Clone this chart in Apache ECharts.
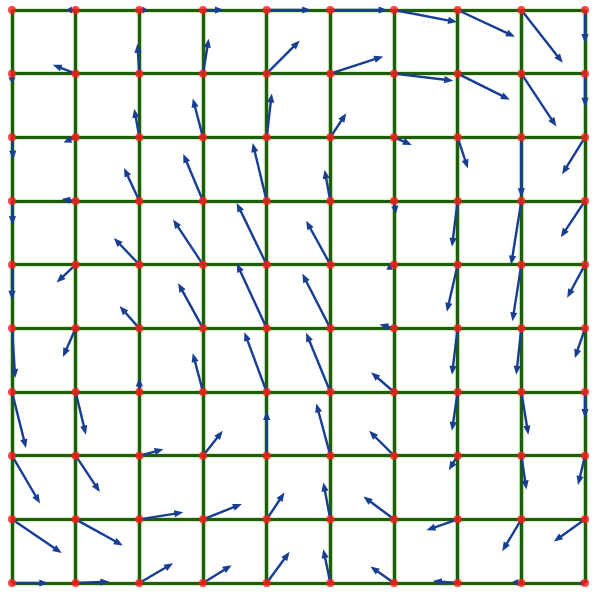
<!DOCTYPE html>
<html>
<head>
<meta charset="utf-8">
<script src="https://cdn.jsdelivr.net/npm/echarts@6/dist/echarts.min.js"></script>
<style>html,body{margin:0;padding:0;background:#fff;}#chart{width:600px;height:598px;}</style>
</head>
<body>
<div id="chart"></div>
<script>
// Grid positions (columns and rows, row 0 at the top)
const columns = [0, 1, 2, 3, 4, 5, 6, 7, 8, 9];
const rows = [0, 1, 2, 3, 4, 5, 6, 7, 8, 9];

// Horizontal vector components (grid units, positive to the right), one row per list
const U = [
  [0.00, -0.15, 0.13, 0.33, 0.70, 0.90, 0.99, 0.90, 0.65, 0.00],
  [0.00, -0.36, -0.03, 0.09, 0.52, 0.83, 0.93, 0.82, 0.55, 0.00],
  [0.02, -0.19, -0.08, -0.16, 0.08, 0.25, 0.28, 0.16, 0.00, -0.36],
  [0.01, -0.22, -0.24, -0.31, -0.22, -0.09, 0.03, -0.09, -0.16, -0.38],
  [0.00, -0.30, -0.40, -0.47, -0.47, -0.38, -0.12, -0.17, -0.14, -0.28],
  [0.05, -0.20, -0.31, -0.39, -0.47, -0.44, -0.23, -0.09, -0.08, -0.16],
  [0.22, 0.16, 0.00, -0.16, -0.35, -0.38, -0.36, -0.09, 0.11, 0.00],
  [0.44, 0.38, 0.38, 0.31, 0.00, -0.22, -0.39, -0.14, 0.08, -0.11],
  [0.78, 0.74, 0.69, 0.61, 0.28, -0.11, -0.48, -0.49, -0.30, -0.49],
  [0.57, 0.53, 0.53, 0.45, 0.36, -0.11, -0.37, -0.39, -0.14, -0.09]
];

// Vertical vector components (grid units, positive downward), one row per list
const V = [
  [0.00, 0.00, 0.00, 0.00, 0.00, 0.00, 0.19, 0.42, 0.83, 0.52],
  [0.15, -0.14, -0.47, -0.55, -0.52, -0.27, 0.11, 0.41, 0.83, 0.52],
  [0.35, 0.08, -0.45, -0.61, -0.69, -0.38, 0.12, 0.49, 0.94, 0.58],
  [0.38, -0.03, -0.52, -0.74, -0.91, -0.49, 0.20, 0.72, 1.00, 0.57],
  [0.55, 0.28, -0.42, -0.71, -0.97, -0.69, 0.08, 0.74, 0.89, 0.52],
  [0.78, 0.45, -0.35, -0.71, -1.02, -0.86, -0.06, 0.73, 0.73, 0.47],
  [0.88, 0.67, -0.22, -0.61, -0.94, -0.93, -0.31, 0.61, 0.67, 0.41],
  [0.75, 0.57, -0.10, -0.39, -0.70, -0.82, -0.39, 0.23, 0.53, 0.46],
  [0.53, 0.41, -0.11, -0.24, -0.42, -0.58, -0.36, 0.17, 0.50, 0.35],
  [0.00, -0.02, -0.31, -0.28, -0.49, -0.53, -0.26, -0.03, -0.02, 0.00]
];

const arrowData = [];
const nodeData = [];
rows.forEach(function (r, i) {
  columns.forEach(function (c, j) {
    arrowData.push([c, r, U[i][j], V[i][j]]);
    nodeData.push([c, r]);
  });
});

const chart = echarts.init(document.getElementById('chart'));

function renderArrow(params, api) {
  const x = api.value(0), y = api.value(1), u = api.value(2), v = api.value(3);
  const p0 = api.coord([x, y]);
  const p1 = api.coord([x + u, y + v]);
  const dx = p1[0] - p0[0], dy = p1[1] - p0[1];
  const len = Math.sqrt(dx * dx + dy * dy);
  if (len < 1) return null;
  const ux = dx / len, uy = dy / len;
  const hl = Math.min(9, len * 0.6), hw = 3.6;
  const bx = p1[0] - ux * hl, by = p1[1] - uy * hl;
  const color = '#173e93';
  return {
    type: 'group',
    children: [
      {
        type: 'line',
        shape: { x1: p0[0], y1: p0[1], x2: bx + ux * 1, y2: by + uy * 1 },
        style: { stroke: color, lineWidth: 2.4 }
      },
      {
        type: 'polygon',
        shape: { points: [[p1[0], p1[1]], [bx - uy * hw, by + ux * hw], [bx + uy * hw, by - ux * hw]] },
        style: { fill: color }
      }
    ]
  };
}

const gridLine = {
  show: true,
  lineStyle: { color: '#1f5c0c', width: 3.2, shadowColor: 'rgba(90,190,50,0.9)', shadowBlur: 2 }
};

chart.setOption({
  animation: false,
  backgroundColor: '#ffffff',
  grid: { left: 12, right: 15, top: 10, bottom: 15 },
  xAxis: {
    type: 'value', min: 0, max: 9, interval: 1,
    axisLine: { show: false }, axisTick: { show: false }, axisLabel: { show: false },
    splitLine: gridLine
  },
  yAxis: {
    type: 'value', min: 0, max: 9, interval: 1, inverse: true,
    axisLine: { show: false }, axisTick: { show: false }, axisLabel: { show: false },
    splitLine: gridLine
  },
  series: [
    {
      type: 'custom',
      renderItem: renderArrow,
      data: arrowData,
      clip: false,
      z: 3,
      silent: true
    },
    {
      type: 'scatter',
      data: nodeData,
      symbol: 'circle',
      symbolSize: 8,
      itemStyle: { color: '#ff1a1a' },
      z: 4,
      silent: true
    }
  ]
});
</script>
</body>
</html>
